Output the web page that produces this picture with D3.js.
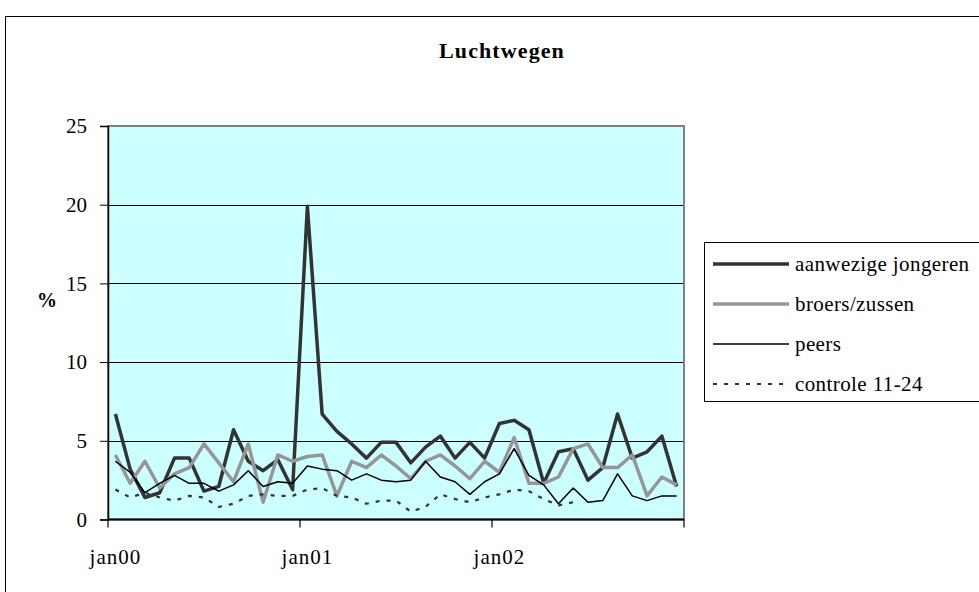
<!DOCTYPE html>
<html>
<head>
<meta charset="utf-8">
<script src="https://cdn.jsdelivr.net/npm/d3@7"></script>
<style>
  html, body { margin: 0; padding: 0; background: #ffffff; }
  svg { display: block; }
  text { font-family: "Liberation Serif", "Times New Roman", serif; fill: #000; }
</style>
</head>
<body>
<svg id="chart" width="979" height="592"></svg>
<script>
// 4-weekly periods, 13 per year, 2000-2002
const categories = [
  "2000-01","2000-02","2000-03","2000-04","2000-05","2000-06","2000-07","2000-08","2000-09","2000-10","2000-11","2000-12","2000-13",
  "2001-01","2001-02","2001-03","2001-04","2001-05","2001-06","2001-07","2001-08","2001-09","2001-10","2001-11","2001-12","2001-13",
  "2002-01","2002-02","2002-03","2002-04","2002-05","2002-06","2002-07","2002-08","2002-09","2002-10","2002-11","2002-12","2002-13"
];
const tickCategories = ["2000-01", "2001-01", "2002-01"];
const tickLabels = ["jan00", "jan01", "jan02"];
const yTicks = [0, 5, 10, 15, 20, 25];

const seriesNames = ["aanwezige jongeren", "broers/zussen", "peers", "controle 11-24"];

const aanwezigeJongeren = [6.7, 3.2, 1.4, 1.7, 3.9, 3.9, 1.8, 2.1, 5.7, 3.7, 3.1, 3.8, 1.9,
  19.9, 6.7, 5.6, 4.8, 3.9, 4.9, 4.9, 3.6, 4.6, 5.3, 3.9, 4.9, 3.9,
  6.1, 6.3, 5.7, 2.3, 4.3, 4.5, 2.5, 3.3, 6.7, 3.9, 4.3, 5.3, 2.1];
const broersZussen = [4.1, 2.3, 3.7, 2.0, 2.9, 3.3, 4.8, 3.6, 2.4, 4.8, 1.1, 4.1, 3.7,
  4.0, 4.1, 1.5, 3.7, 3.3, 4.1, 3.4, 2.6, 3.7, 4.1, 3.4, 2.6, 3.7,
  3.0, 5.2, 2.3, 2.3, 2.7, 4.5, 4.8, 3.3, 3.3, 4.1, 1.5, 2.7, 2.2];
const peers = [3.7, 3.0, 1.7, 2.3, 2.8, 2.3, 2.3, 1.8, 2.2, 3.1, 2.1, 2.4, 2.3,
  3.4, 3.2, 3.1, 2.5, 2.9, 2.5, 2.4, 2.5, 3.7, 2.7, 2.4, 1.6, 2.4,
  2.9, 4.5, 2.8, 2.2, 1.0, 2.0, 1.1, 1.2, 2.9, 1.5, 1.2, 1.5, 1.5];
const controle1124 = [1.9, 1.4, 1.7, 1.4, 1.2, 1.5, 1.4, 0.8, 1.0, 1.5, 1.6, 1.5, 1.5,
  1.9, 2.0, 1.5, 1.4, 1.0, 1.2, 1.2, 0.5, 0.8, 1.6, 1.3, 1.1, 1.4,
  1.6, 1.9, 1.8, 1.3, 0.9, 1.1, null, null, null, null, null, null, null];

const seriesValues = [aanwezigeJongeren, broersZussen, peers, controle1124];
const seriesStyles = [
  { color: "#333333", width: 3.5, dash: null },
  { color: "#969696", width: 3.5, dash: null },
  { color: "#000000", width: 1.5, dash: null },
  { color: "#333333", width: 2.2, dash: "4,7" }
];

const svg = d3.select("#chart");

// outer chart border
svg.append("rect").attr("x", 5.5).attr("y", 16.5).attr("width", 1000).attr("height", 600)
  .attr("fill", "#fff").attr("stroke", "#000").attr("stroke-width", 1);

const plot = { left: 108, right: 684, top: 126, bottom: 519.5 };

const x = d3.scalePoint().domain(categories).range([plot.left, plot.right]).padding(0.5);
const step = x.step();
const y = d3.scaleLinear().domain([0, 25]).range([plot.bottom, plot.top]);

// title
svg.append("text").attr("x", 502).attr("y", 58).attr("text-anchor", "middle")
  .attr("font-size", 22).attr("font-weight", "bold").attr("letter-spacing", 1.1).text("Luchtwegen");

// plot background
svg.append("rect").attr("x", plot.left).attr("y", plot.top)
  .attr("width", plot.right - plot.left).attr("height", plot.bottom - plot.top)
  .attr("fill", "#ccffff");

// gridlines
svg.append("g").selectAll("line").data(yTicks.filter(t => t > 0 && t < 25)).join("line")
  .attr("x1", plot.left).attr("x2", plot.right)
  .attr("y1", d => Math.round(y(d)) + 0.5).attr("y2", d => Math.round(y(d)) + 0.5)
  .attr("stroke", "#000").attr("stroke-width", 1);

// plot border
svg.append("rect").attr("x", plot.left).attr("y", plot.top)
  .attr("width", plot.right - plot.left).attr("height", plot.bottom - plot.top)
  .attr("fill", "none").attr("stroke", "#808080").attr("stroke-width", 2);

// y axis
const yAxis = d3.axisLeft(y).tickValues(yTicks).tickSize(8).tickPadding(13).tickFormat(d3.format("d"));
const gy = svg.append("g").attr("transform", `translate(${plot.left},0)`).call(yAxis);
gy.select(".domain").attr("stroke", "#000").attr("stroke-width", 1.5);
gy.selectAll(".tick line").attr("stroke", "#000");
gy.selectAll(".tick text").attr("font-size", 21).attr("font-family", "Liberation Serif, Times New Roman, serif");

svg.append("text").attr("x", 47).attr("y", 307).attr("text-anchor", "middle")
  .attr("font-size", 20).attr("font-weight", "bold").text("%");

// x axis: ticks at period boundaries every 13 periods, labels centred on first period
const gx = svg.append("g").attr("transform", `translate(0,${plot.bottom})`);
gx.append("line").attr("x1", plot.left).attr("x2", plot.right).attr("y1", 0).attr("y2", 0)
  .attr("stroke", "#000").attr("stroke-width", 2);
const boundaryCats = tickCategories.map(c => x(c) - step / 2).concat([plot.right]);
gx.selectAll("line.tk").data(boundaryCats).join("line").attr("class", "tk")
  .attr("x1", d => d).attr("x2", d => d).attr("y1", 0).attr("y2", 8)
  .attr("stroke", "#000").attr("stroke-width", 1.2);
gx.selectAll("text").data(tickCategories).join("text")
  .attr("x", d => x(d)).attr("y", 44).attr("text-anchor", "middle")
  .attr("font-size", 21).attr("letter-spacing", 1)
  .text((d, i) => tickLabels[i]);

// series lines
const line = d3.line().defined(d => d.v !== null).x(d => x(d.c)).y(d => y(d.v));
seriesValues.forEach((vals, si) => {
  const st = seriesStyles[si];
  const data = categories.map((c, i) => ({ c, v: vals[i] }));
  svg.append("path").datum(data).attr("d", line)
    .attr("fill", "none").attr("stroke", st.color).attr("stroke-width", st.width)
    .attr("stroke-linejoin", "round")
    .attr("stroke-dasharray", st.dash);
});

// legend
const lg = svg.append("g");
lg.append("rect").attr("x", 704.5).attr("y", 242.5).attr("width", 300).attr("height", 159)
  .attr("fill", "#fff").attr("stroke", "#000").attr("stroke-width", 1);
const rowY = [264, 304, 344, 384];
seriesNames.forEach((name, i) => {
  const st = seriesStyles[i];
  lg.append("line").attr("x1", 713).attr("x2", 789).attr("y1", rowY[i]).attr("y2", rowY[i])
    .attr("stroke", st.color).attr("stroke-width", st.width).attr("stroke-dasharray", st.dash);
  lg.append("text").attr("x", 795).attr("y", rowY[i] + 7).attr("font-size", 21)
    .attr("letter-spacing", 0.4).text(name);
});
</script>
</body>
</html>
